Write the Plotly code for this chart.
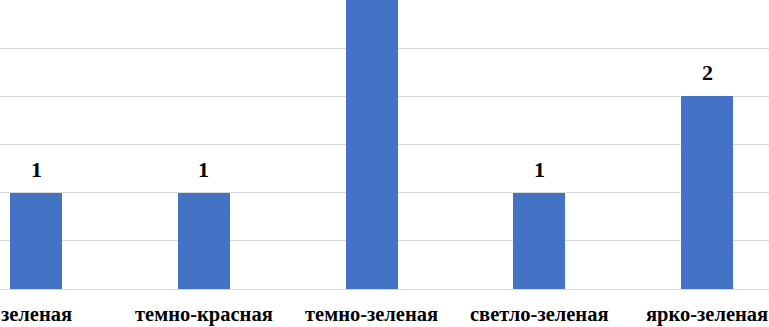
import plotly.graph_objects as go

categories = ["зеленая", "темно-красная", "темно-зеленая", "светло-зеленая", "ярко-зеленая"]
values = [1, 1, 3, 1, 2]

SERIF = "Times New Roman, Liberation Serif, DejaVu Serif, serif"
Y_TOP = 3.0

fig = go.Figure()
fig.add_trace(go.Bar(
    x=list(range(len(categories))),
    y=values,
    width=0.31,
    marker=dict(color="#4472C4", line=dict(width=0)),
    hoverinfo="skip",
))

# value labels
for i, v in enumerate(values):
    if v >= Y_TOP:
        continue  # label lies above the visible area
    fig.add_annotation(
        x=i, y=v, xref="x", yref="y",
        text="<b>%g</b>" % v,
        showarrow=False, yanchor="bottom", yshift=9,
        font=dict(family=SERIF, size=22, color="#000000"),
    )

# category labels (as annotations so edge labels are not dropped)
for i, c in enumerate(categories):
    fig.add_annotation(
        x=i, y=0, xref="x", yref="y",
        text="<b>%s</b>" % c,
        showarrow=False, yanchor="top", yshift=-12,
        font=dict(family=SERIF, size=20.5, color="#000000"),
    )

fig.update_layout(
    width=769, height=327,
    margin=dict(l=0, r=0, t=0, b=38, autoexpand=False),
    paper_bgcolor="white", plot_bgcolor="white",
    showlegend=False,
    bargap=0,
    font=dict(family=SERIF),
    xaxis=dict(
        range=[-0.2146, 4.3696],
        showticklabels=False,
        showgrid=False, zeroline=False, showline=False,
        ticks="",
        automargin=False,
    ),
    yaxis=dict(
        range=[0, Y_TOP],
        dtick=0.5,
        showgrid=True, gridcolor="#D9D9D9", gridwidth=1,
        zeroline=True, zerolinecolor="#D9D9D9", zerolinewidth=1,
        showticklabels=False, ticks="",
        automargin=False,
    ),
)

fig.write_html(
    "out.html",
    config={"displayModeBar": False},
    post_script="document.body.style.margin='0';document.body.style.padding='0';",
)
